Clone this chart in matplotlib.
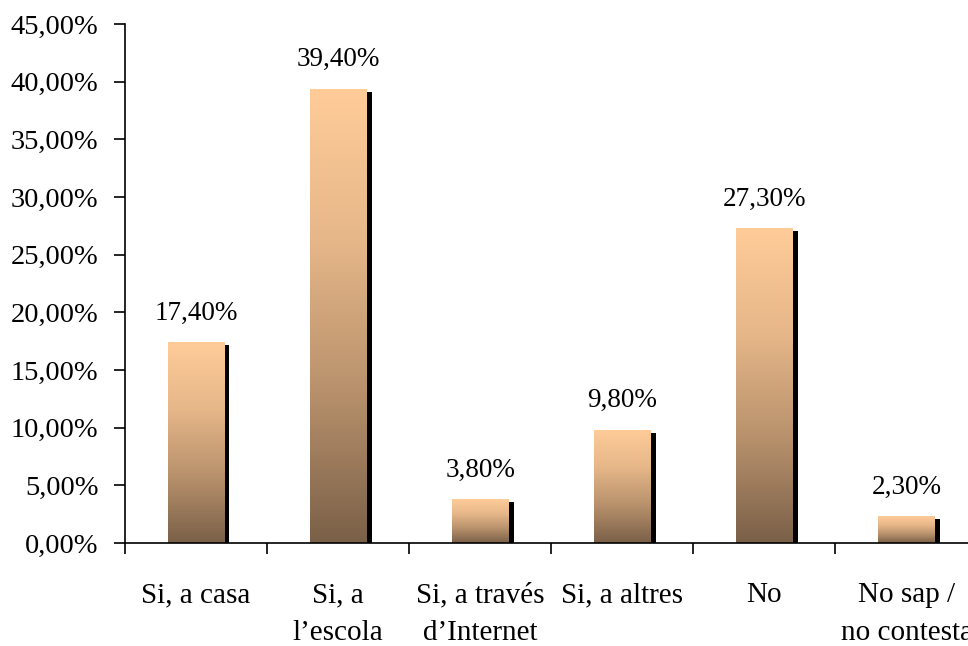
import numpy as np
import matplotlib
matplotlib.use("Agg")
import matplotlib.pyplot as plt
import matplotlib.transforms as mtransforms
from matplotlib.colors import LinearSegmentedColormap

categories = ["Si, a casa", "Si, a\nl\u2019escola", "Si, a trav\u00e9s\nd\u2019Internet",
              "Si, a altres", "No", "No sap /\nno contesta"]
values = [17.4, 39.4, 3.8, 9.8, 27.3, 2.3]
value_labels = ["17,40%", "39,40%", "3,80%", "9,80%", "27,30%", "2,30%"]
yticks = [0, 5, 10, 15, 20, 25, 30, 35, 40, 45]
ytick_labels = ["0,00%", "5,00%", "10,00%", "15,00%", "20,00%", "25,00%",
                "30,00%", "35,00%", "40,00%", "45,00%"]

plt.rcParams['font.family'] = ['Liberation Serif', 'DejaVu Serif']

fig = plt.figure(figsize=(9.68, 6.46), dpi=100)
ax = fig.add_axes([125/968, 1-543/646, (6*142.1)/968, (543-24)/646])

cmap = LinearSegmentedColormap.from_list("g", ["#7A6048", "#B8916C", "#E6B789", "#FFCC99"])
grad = np.linspace(0, 1, 256).reshape(-1, 1)

x = np.arange(len(categories))
w = 0.4
shadow_tr = ax.transData + mtransforms.ScaledTranslation(5/100, -3/100, fig.dpi_scale_trans)
shadows = ax.bar(x, values, width=w, color="black", zorder=1)
for s in shadows:
    s.set_transform(shadow_tr)
bars = ax.bar(x, values, width=w, color="none", zorder=2)
for b, v in zip(bars, values):
    x0 = b.get_x()
    im = ax.imshow(grad, extent=[x0, x0 + w, 0, v], origin="lower", cmap=cmap,
                   aspect="auto", zorder=2, interpolation="bicubic")
    im.set_clip_path(b)

for xi, v, lab in zip(x, values, value_labels):
    ax.annotate(lab, (xi, v), xytext=(0, 12), textcoords="offset points",
                ha="center", va="bottom", fontsize=19.5)

ax.set_xlim(-0.5, len(categories) - 0.5)
ax.set_ylim(0, 45)
ax.set_yticks(yticks)
ax.set_yticklabels(ytick_labels, fontsize=20.5)
ax.set_xticks(x)
ax.set_xticklabels(categories, fontsize=21, linespacing=1.6, va="top")
ax.set_xticks(np.arange(-0.5, len(categories), 1), minor=True)
ax.tick_params(axis="x", which="major", length=0, pad=28)
ax.tick_params(axis="x", which="minor", length=8, width=1.2, direction="out")
ax.tick_params(axis="y", length=8, width=1.2, pad=11, direction="out")
for sp in ["top", "right"]:
    ax.spines[sp].set_visible(False)
for sp in ["left", "bottom"]:
    ax.spines[sp].set_linewidth(1.2)
    ax.spines[sp].set_zorder(5)

fig.savefig("out.png", dpi=100)
